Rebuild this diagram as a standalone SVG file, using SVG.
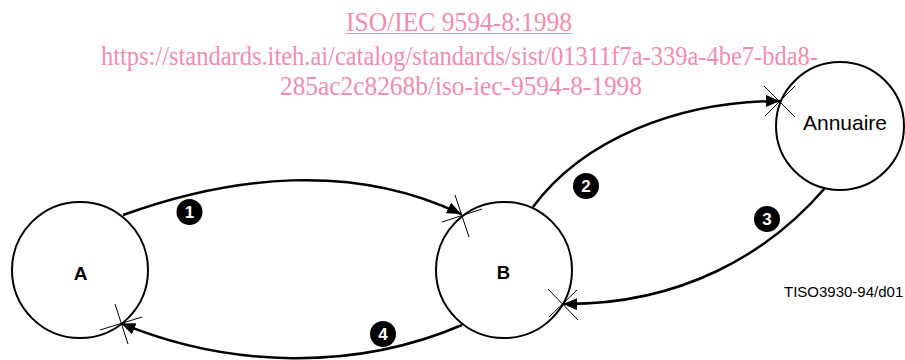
<svg xmlns="http://www.w3.org/2000/svg" width="905" height="360" viewBox="0 0 905 360">
<style>
.node{fill:#fff;stroke:#000;stroke-width:2}
.lbl{font-family:"Liberation Sans",Arial,sans-serif;fill:#000;text-anchor:middle}
.conn{fill:none;stroke:#000;stroke-width:2.5}
.x{stroke:#000;stroke-width:1}
.badge{fill:#000}
.num{font-family:"Liberation Sans",Arial,sans-serif;font-weight:bold;font-size:17px;fill:#fff;text-anchor:middle}
.wm{font-family:"Liberation Serif","Times New Roman",serif;font-size:25px;fill:#ef8db0;text-anchor:middle}
</style>
<defs>
<marker id="ah" viewBox="0 0 14 12" refX="14" refY="6" markerWidth="14" markerHeight="12" markerUnits="userSpaceOnUse" orient="auto">
<path d="M0,0 L14,6 L0,12 z" fill="#000"/>
</marker>
</defs>
<rect width="905" height="360" fill="#fff"/>
<g id="watermark">
<text class="wm" x="459" y="0" transform="translate(0,31) scale(1,1.12)" textLength="226" lengthAdjust="spacingAndGlyphs">ISO/IEC 9594-8:1998</text>
<line x1="346" y1="33.5" x2="572" y2="33.5" stroke="#ef8db0" stroke-width="1.2"/>
<text class="wm" x="459.5" y="0" transform="translate(0,64.5) scale(1,1.12)" textLength="717" lengthAdjust="spacingAndGlyphs">https://standards.iteh.ai/catalog/standards/sist/01311f7a-339a-4be7-bda8-</text>
<text class="wm" x="461" y="0" transform="translate(0,95) scale(1,1.12)" textLength="362" lengthAdjust="spacingAndGlyphs">285ac2c8268b/iso-iec-9594-8-1998</text>
</g>
<g id="connectors">
<path id="c1" class="conn" d="M123,215 C231,176 353,162 461,214" marker-end="url(#ah)"/>
<path id="c2" class="conn" d="M533,207 C583,139.5 678,101 780,101" marker-end="url(#ah)"/>
<path id="c3" class="conn" d="M825,188 C769,253 682,305 563,304" marker-end="url(#ah)"/>
<path id="c4" class="conn" d="M462,325 C355,371 229,368 121.3,323.4" marker-end="url(#ah)"/>
</g>
<g id="A">
<circle class="node" cx="80" cy="270" r="68"/>
<text class="lbl" x="80.5" y="280" font-size="19" font-weight="bold">A</text>
</g>
<g id="B">
<circle class="node" cx="504" cy="270" r="68"/>
<text class="lbl" x="503.5" y="279" font-size="18.5" font-weight="bold">B</text>
</g>
<g id="Annuaire">
<circle class="node" cx="840" cy="126" r="64"/>
<text class="lbl" x="845" y="130" font-size="21">Annuaire</text>
</g>
<g id="crosses">
<line class="x" x1="455" y1="195" x2="469" y2="237"/>
<line class="x" x1="442" y1="222" x2="482" y2="209"/>
<line class="x" x1="115" y1="304" x2="128" y2="344"/>
<line class="x" x1="100" y1="330" x2="142" y2="317"/>
<line class="x" x1="764" y1="86" x2="795" y2="117"/>
<line class="x" x1="765" y1="116" x2="795" y2="86"/>
<line class="x" x1="548" y1="289" x2="578" y2="320"/>
<line class="x" x1="577" y1="290" x2="549" y2="317"/>
</g>
<g id="badges">
<circle class="badge" cx="189.5" cy="212" r="13"/>
<text class="num" x="189.5" y="218">1</text>
<circle class="badge" cx="586" cy="186" r="13"/>
<text class="num" x="586" y="192">2</text>
<circle class="badge" cx="767" cy="219" r="13"/>
<text class="num" x="767" y="225">3</text>
<circle class="badge" cx="383" cy="334" r="13"/>
<text class="num" x="383" y="340">4</text>
</g>
<text id="ref" x="784" y="297" font-family="Liberation Sans,Arial,sans-serif" font-size="15" fill="#000">TISO3930-94/d01</text>
</svg>
